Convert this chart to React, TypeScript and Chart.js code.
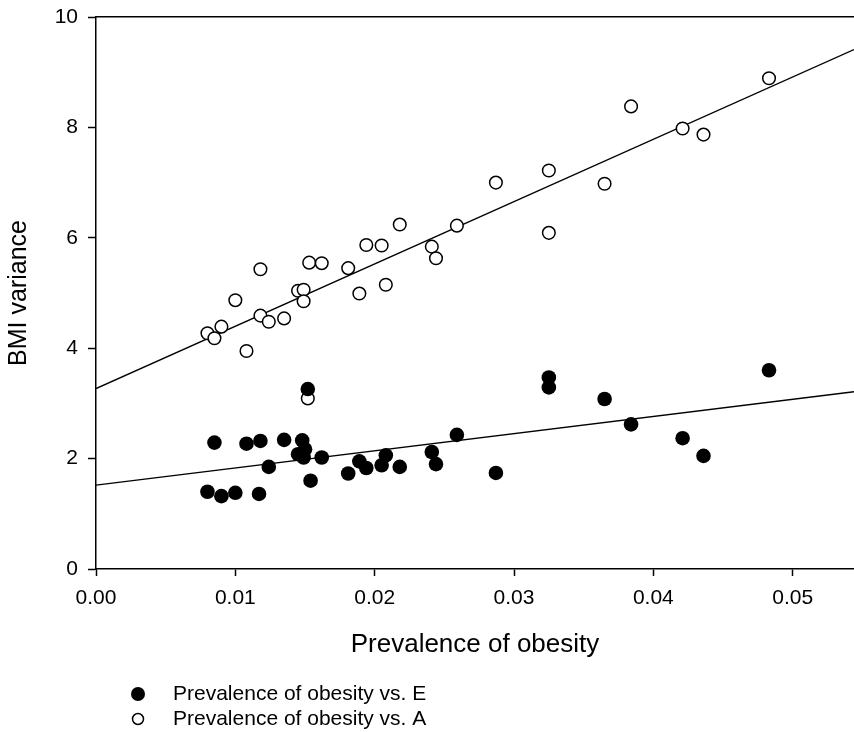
import React, { useEffect, useRef } from "react";
import { Chart, registerables } from "chart.js";

Chart.register(...registerables);

// Prevalence of obesity vs. E (filled circles)
const obesityE = [
  0.008, 0.0085, 0.009, 0.01, 0.0108, 0.0117, 0.0118, 0.0124, 0.0135, 0.0148,
  0.0145, 0.015, 0.0149, 0.0152, 0.0154, 0.0162, 0.0181, 0.0189, 0.0194, 0.0205,
  0.0208, 0.0218, 0.0241, 0.0244, 0.0259, 0.0287, 0.0325, 0.0325, 0.0365, 0.0384,
  0.0421, 0.0436, 0.0483,
];
const varianceE = [
  1.4, 2.29, 1.32, 1.38, 2.27, 1.36, 2.32, 1.85, 2.34, 2.33,
  2.08, 2.17, 2.02, 3.26, 1.6, 2.02, 1.73, 1.95, 1.83, 1.88,
  2.06, 1.85, 2.12, 1.9, 2.43, 1.74, 3.47, 3.29, 3.08, 2.62,
  2.37, 2.05, 3.6,
];

// Prevalence of obesity vs. A (open circles)
const obesityA = [
  0.008, 0.0085, 0.009, 0.01, 0.0108, 0.0118, 0.0118, 0.0124, 0.0135, 0.0145,
  0.0149, 0.0149, 0.0152, 0.0153, 0.0162, 0.0181, 0.0189, 0.0194, 0.0205, 0.0208,
  0.0218, 0.0241, 0.0244, 0.0259, 0.0287, 0.0325, 0.0325, 0.0365, 0.0384, 0.0421,
  0.0436, 0.0483,
];
const varianceA = [
  4.27, 4.18, 4.39, 4.87, 3.95, 5.43, 4.59, 4.48, 4.54, 5.04,
  5.06, 4.85, 3.09, 5.55, 5.54, 5.45, 4.99, 5.87, 5.86, 5.15,
  6.24, 5.84, 5.63, 6.22, 7.0, 7.22, 6.09, 6.98, 8.38, 7.98,
  7.87, 8.89,
];

// Regression lines (end points)
const fitX = [0, 0.0544];
const fitE = [1.52, 3.21];
const fitA = [3.27, 9.41];

const xMin = 0;
const xMax = 0.0544;
const xStep = 0.01;
const yMin = 0;
const yMax = 10;
const yStep = 2;

const labelE = "Prevalence of obesity vs. E";
const labelA = "Prevalence of obesity vs. A";
const xTitle = "Prevalence of obesity";
const yTitle = "BMI variance";

const FONT = "'Liberation Sans', Arial, Helvetica, sans-serif";

const stackedLegend = {
  id: "stackedLegend",
  afterDraw(chart: any, _args: any, opts: any) {
    const ctx = chart.ctx;
    const items = chart.data.datasets.filter((d: any) => d.inLegend);
    ctx.save();
    ctx.font = `${opts.fontSize}px ${FONT}`;
    ctx.textBaseline = "middle";
    ctx.textAlign = "left";
    items.forEach((d: any, i: number) => {
      const y = chart.height - opts.bottomOffset + i * opts.rowGap;
      ctx.beginPath();
      ctx.arc(opts.markerX, y, d.legendRadius, 0, Math.PI * 2);
      ctx.fillStyle = d.pointBackgroundColor;
      ctx.fill();
      if (d.pointBorderWidth > 0) {
        ctx.lineWidth = d.pointBorderWidth;
        ctx.strokeStyle = d.pointBorderColor;
        ctx.stroke();
      }
      ctx.fillStyle = "#000";
      ctx.fillText(d.label, opts.textX, y);
    });
    ctx.restore();
  },
};

const noPad = (s: any) => {
  s.paddingTop = 0;
  s.paddingBottom = 0;
  s.paddingLeft = 0;
  s.paddingRight = 0;
};

export default function App() {
  const ref = useRef<HTMLCanvasElement | null>(null);

  useEffect(() => {
    if (!ref.current) return;
    const chart = new Chart(ref.current, {
      type: "scatter",
      data: {
        datasets: [
          {
            type: "scatter",
            label: labelE,
            data: obesityE.map((x, i) => ({ x, y: varianceE[i] })),
            pointRadius: 7.3,
            pointBackgroundColor: "#000",
            pointBorderColor: "#000",
            pointBorderWidth: 0,
            xAxisID: "x",
            yAxisID: "y",
            order: 0,
            inLegend: true,
            legendRadius: 7,
          } as any,
          {
            type: "scatter",
            label: labelA,
            data: obesityA.map((x, i) => ({ x, y: varianceA[i] })),
            pointRadius: 6.3,
            pointBackgroundColor: "#fff",
            pointBorderColor: "#000",
            pointBorderWidth: 1.5,
            xAxisID: "x",
            yAxisID: "y",
            order: 1,
            inLegend: true,
            legendRadius: 5.5,
          } as any,
          {
            type: "line",
            label: "fit E",
            data: fitX.map((x, i) => ({ x, y: fitE[i] })),
            borderColor: "#000",
            borderWidth: 1.4,
            pointRadius: 0,
            fill: false,
            xAxisID: "x",
            yAxisID: "y",
            order: 2,
          } as any,
          {
            type: "line",
            label: "fit A",
            data: fitX.map((x, i) => ({ x, y: fitA[i] })),
            borderColor: "#000",
            borderWidth: 1.4,
            pointRadius: 0,
            fill: false,
            xAxisID: "x",
            yAxisID: "y",
            order: 2,
          } as any,
        ],
      },
      options: {
        animation: false,
        responsive: true,
        maintainAspectRatio: false,
        layout: {
          autoPadding: false,
          padding: { top: 17, right: 0, bottom: 63, left: 0 },
        },
        plugins: {
          legend: { display: false },
          tooltip: { enabled: false },
          stackedLegend: {
            fontSize: 21,
            markerX: 138,
            textX: 173,
            bottomOffset: 38,
            rowGap: 25,
          },
        } as any,
        scales: {
          x: {
            type: "linear",
            position: "bottom",
            min: xMin,
            max: xMax,
            ticks: {
              stepSize: xStep,
              includeBounds: false,
              color: "#000",
              font: { size: 21, family: FONT },
              padding: 10,
              maxRotation: 0,
              callback: (v: any) => Number(v).toFixed(2),
            },
            grid: {
              drawOnChartArea: false,
              drawTicks: true,
              tickLength: 7,
              tickWidth: 1.5,
              tickColor: "#000",
            },
            border: { display: true, color: "#000", width: 1.5 },
            title: {
              display: true,
              text: xTitle,
              color: "#000",
              font: { size: 26, family: FONT },
              padding: { top: 0, bottom: 9 },
            },
            afterFit: (s: any) => {
              s.height = 100;
              noPad(s);
            },
          },
          xTop: {
            type: "linear",
            position: "top",
            min: xMin,
            max: xMax,
            ticks: { display: false },
            grid: { display: false },
            border: { display: true, color: "#000", width: 1.5 },
            afterFit: (s: any) => {
              s.height = 0;
              noPad(s);
            },
          },
          y: {
            type: "linear",
            position: "left",
            min: yMin,
            max: yMax,
            ticks: {
              stepSize: yStep,
              color: "#000",
              font: { size: 21, family: FONT },
              padding: 10,
            },
            grid: {
              drawOnChartArea: false,
              drawTicks: true,
              tickLength: 8,
              tickWidth: 1.5,
              tickColor: "#000",
            },
            border: { display: true, color: "#000", width: 1.5 },
            title: {
              display: true,
              text: yTitle,
              color: "#000",
              font: { size: 25, family: FONT },
              padding: { top: 4, bottom: 0 },
            },
            afterFit: (s: any) => {
              s.width = 96;
              noPad(s);
            },
          },
        },
      },
      plugins: [stackedLegend as any],
    });
    return () => chart.destroy();
  }, []);

  return (
    <div
      style={{
        position: "absolute",
        left: 0,
        top: 0,
        width: 854,
        height: 732,
        background: "#fff",
      }}
    >
      <canvas ref={ref} />
    </div>
  );
}
